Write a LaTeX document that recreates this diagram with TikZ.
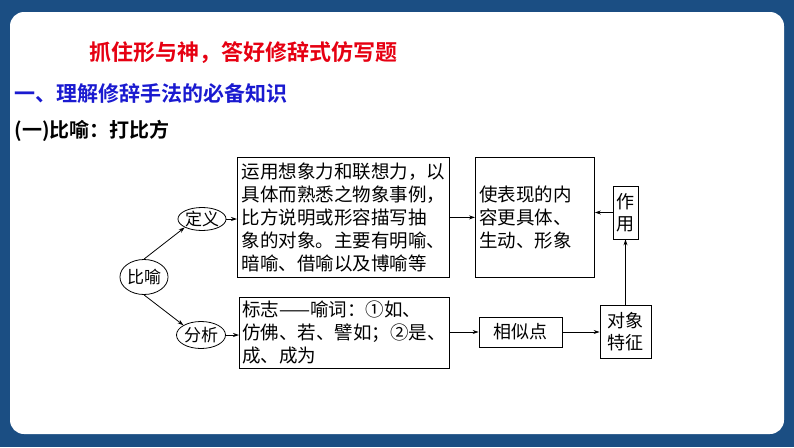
\documentclass[tikz,border=0pt]{standalone}
\usepackage{fontspec}
\newfontfamily\cjk{Noto Sans CJK SC}
\newfontfamily\cjkbold{Noto Sans CJK SC Bold}
\usetikzlibrary{positioning, shapes.geometric, arrows.meta}
\definecolor{frameblue}{HTML}{1B4E83}
\definecolor{titlered}{HTML}{E60012}
\definecolor{headblue}{HTML}{1A1AD0}

\begin{document}
\begin{tikzpicture}[x=1pt, y=-1pt]
    % Define styles
    \tikzset{
        oval/.style={draw, ellipse, thick, inner sep=0pt, font=\cjk\fontsize{17}{17}\selectfont},
        textbox/.style={draw, thick, align=left, anchor=north west, inner sep=0pt, font=\cjk\fontsize{18.5}{23}\selectfont},
        smallbox/.style={draw, thick, align=center, font=\cjk\fontsize{18}{22}\selectfont},
        link/.style={-{Stealth[length=6pt, width=4pt]}, thick}
    }

    % --- 1. Slide frame ---
    \fill[frameblue] (0,0) rectangle (794,447);
    \useasboundingbox (0,0) rectangle (794,447);
    \fill[white, rounded corners=14pt] (10,12) rectangle (784,434);

    % --- 2. Headings ---
    \node[anchor=west, text=titlered, font=\cjkbold\fontsize{22}{22}\selectfont] (title) at (86,53) {抓住形与神，答好修辞式仿写题};
    \node[anchor=west, text=headblue, font=\cjkbold\fontsize{21}{21}\selectfont] (part) at (11,93) {一、理解修辞手法的必备知识};
    \node[anchor=west, font=\cjkbold\fontsize{20}{20}\selectfont] (sect) at (11,131) {(一)比喻：打比方};

    % --- 3. Ovals ---
    \node[oval, minimum width=38pt, minimum height=35pt] (metaphor) at (144,277) {比喻};
    \node[oval, minimum width=47pt, minimum height=23pt] (define) at (202,219) {定义};
    \node[oval, minimum width=49pt, minimum height=27pt] (analyse) at (201,335) {分析};

    % --- 4. Boxes ---
    \node[textbox, minimum width=212pt, minimum height=120pt, inner xsep=3pt] (defbox) at (237,157) {运用想象力和联想力，以\\具体而熟悉之物象事例，\\比方说明或形容描写抽\\象的对象。主要有明喻、\\暗喻、借喻以及博喻等};
    \node[textbox, minimum width=119pt, minimum height=120pt, text width=111pt, inner xsep=4pt] (effect) at (475,157) {使表现的内\\容更具体、\\生动、形象};
    \node[smallbox, minimum width=25pt, minimum height=53pt, text width=20pt, inner sep=0pt] (usage) at (625.5,212.5) {作\\用};
    \node[textbox, minimum width=192pt, minimum height=71pt, inner xsep=3pt] (signbox) at (239,297) {标志——喻词：①如、\\仿佛、若、譬如；②是、\\成、成为};
    \node[smallbox, minimum width=83pt, minimum height=30pt] (similar) at (520.5,332) {相似点};
    \node[smallbox, minimum width=51pt, minimum height=53pt, inner sep=0pt] (feature) at (625.5,331.5) {对象\\特征};

    % --- 5. Connectors ---
    \draw[link] (metaphor.north) -- (define.south west);
    \draw[link] (metaphor.south) -- (analyse.north west);
    \draw[link] (define.east) -- (defbox.west |- define.east);
    \draw[link] (analyse.east) -- (signbox.west |- analyse.east);
    \draw[link] (defbox.east |- effect.west) -- (effect.west);
    \draw[link] (signbox.east |- similar.west) -- (similar.west);
    \draw[link] (similar.east) -- (feature.west |- similar.east);
    \draw[link] (feature.north) -- (usage.south);
    \draw[link] (usage.west) -- (effect.east |- usage.west);
\end{tikzpicture}
\end{document}
